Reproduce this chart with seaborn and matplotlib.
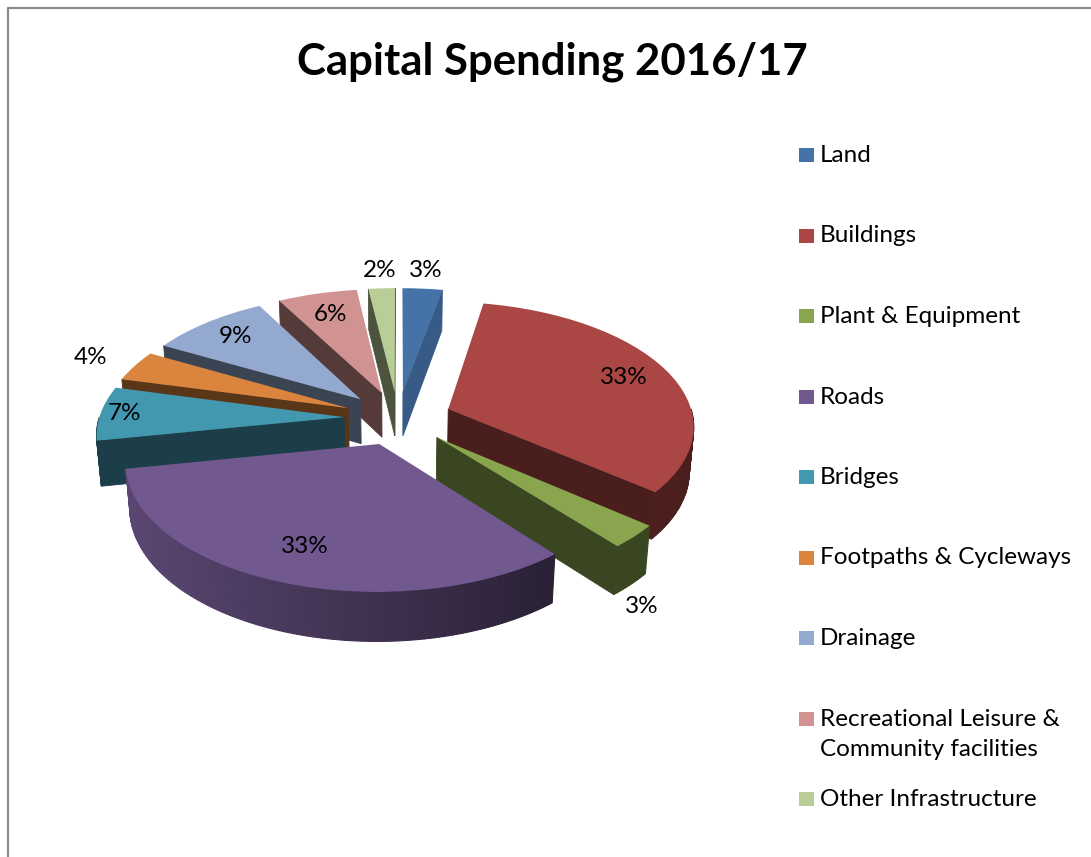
import numpy as np
import matplotlib
matplotlib.use("Agg")
import matplotlib.pyplot as plt
import seaborn as sns
from matplotlib.transforms import Transform
from matplotlib.patches import Rectangle
from matplotlib.lines import Line2D
from matplotlib.colors import to_rgb

# ---- data -------------------------------------------------------------
title = "Capital Spending 2016/17"
categories = ["Land", "Buildings", "Plant & Equipment", "Roads", "Bridges",
              "Footpaths & Cycleways", "Drainage",
              "Recreational Leisure &\nCommunity facilities",
              "Other Infrastructure"]
shares = [3, 33, 3, 33, 7, 4, 9, 6, 2]
colors = ["#4572A7", "#AA4643", "#89A54E", "#71588F", "#4198AF",
          "#DB843D", "#93A9CF", "#D19392", "#B9CD96"]

# ---- styling ----------------------------------------------------------
sns.set_theme(style="white")
plt.rcParams["font.family"] = ["Lato", "DejaVu Sans"]

# shading of the extruded faces (fraction of the top colour)
radial_shade = [0.80, 0.43, 0.42, 0.40, 0.41, 0.41, 0.40, 0.40, 0.41]
curve_shade_left = [0.80, 0.45, 0.42, 0.80, 0.41, 0.41, 0.40, 0.40, 0.41]
curve_shade_right = [0.80, 0.43, 0.42, 0.37, 0.41, 0.41, 0.40, 0.40, 0.41]
# radial position of the percentage labels (in pie radii)
label_dist = [1.2, 0.8, 1.05, 0.77, 0.9, 1.22, 0.8, 0.77, 1.2]

W, H = 1091, 857
S = 245.0            # pixels per pie radius
CX, CY = 398, 418    # pie centre in pixels from the top-left corner
EXPLODE = 0.22
DEPTH = 0.215
SIN_E = 0.5
COS_E = np.sqrt(1 - SIN_E ** 2)
CAM = 7.0
FS = 17.5


def project(x, y, z):
    """Tilted perspective view of a point on/under the pie plane."""
    x = np.asarray(x, float)
    y = np.asarray(y, float)
    yv = y * SIN_E + z * COS_E
    zv = y * COS_E - z * SIN_E
    k = CAM / (CAM + zv)
    return x * k, yv * k


class PiePerspective(Transform):
    input_dims = 2
    output_dims = 2
    is_separable = False

    def __init__(self, z=0.0):
        super().__init__()
        self.z = z

    def transform_non_affine(self, values):
        v = np.asarray(values, dtype=float)
        X, Y = project(v[:, 0], v[:, 1], self.z)
        return np.column_stack([X, Y])


def shade(col, f):
    r, g, b = to_rgb(col)
    return (r * f, g * f, b * f)


fig = plt.figure(figsize=(W / 100, H / 100), dpi=100)
ax = fig.add_axes([0, 0, 1, 1])

n = len(shares)
wedges, _ = ax.pie(shares, colors=colors, startangle=90, counterclock=False,
                   explode=[EXPLODE] * n, radius=1.0,
                   wedgeprops=dict(linewidth=0))
ax.set_aspect("auto")
ax.set_xlim(-CX / S, (W - CX) / S)
ax.set_ylim(-(H - CY) / S, CY / S)
ax.axis("off")


def draw_sides(i, w, z):
    cx, cy = w.center
    r = w.r
    t1, t2 = w.theta1, w.theta2
    zb = -DEPTH
    c0 = project(cx, cy, 0.0)
    cb = project(cx, cy, zb)

    def rim(theta, zz):
        th = np.radians(theta)
        return project(cx + r * np.cos(th), cy + r * np.sin(th), zz)

    # flat radial faces that face the viewer
    rc = shade(colors[i], radial_shade[i])
    for th, vis in ((t1, np.cos(np.radians(t1)) > 0),
                    (t2, np.cos(np.radians(t2)) < 0)):
        if vis:
            p0 = rim(th, 0.0)
            pb = rim(th, zb)
            ax.fill([c0[0], p0[0], pb[0], cb[0]], [c0[1], p0[1], pb[1], cb[1]],
                    color=rc, lw=0.6, ec=rc, zorder=z)

    # curved outer face (front half only)
    for k in range(-2, 3):
        a = max(t1, -180 + 360 * k)
        b = min(t2, 360 * k)
        if b - a <= 0.01:
            continue
        th = np.linspace(a, b, max(2, int(b - a) + 2))
        xt, yt = rim(th, 0.0)
        xb, yb = rim(th, zb)
        xmin, xmax = xt.min(), xt.max()
        span = max(xmax - xmin, 1e-9)
        for j in range(len(th) - 1):
            xm = 0.5 * (xt[j] + xt[j + 1])
            f = curve_shade_left[i] + (curve_shade_right[i] - curve_shade_left[i]) * (xm - xmin) / span
            c = shade(colors[i], f)
            ax.fill([xt[j], xt[j + 1], xb[j + 1], xb[j]],
                    [yt[j], yt[j + 1], yb[j + 1], yb[j]],
                    color=c, lw=0.8, ec=c, zorder=z)


# back-to-front painting
order = sorted(range(n), key=lambda i: -wedges[i].center[1])
for rank, i in enumerate(order):
    base = 2 + 2 * rank
    w = wedges[i]
    draw_sides(i, w, base)
    w.set_transform(PiePerspective(0.0) + ax.transData)
    w.set_zorder(base + 1)

# percentage labels
for i, w in enumerate(wedges):
    mid = np.radians(0.5 * (w.theta1 + w.theta2))
    d = label_dist[i]
    px = w.center[0] + d * w.r * np.cos(mid)
    py = w.center[1] + d * w.r * np.sin(mid)
    txt = f"{shares[i]}%"
    if d > 1 and np.sin(mid) < 0:
        X, Y = project(px, py, -DEPTH)
        ax.annotate(txt, (float(X), float(Y)), xytext=(0, -4),
                    textcoords="offset points", ha="center", va="top",
                    fontsize=FS, color="black", zorder=50)
    else:
        X, Y = project(px, py, 0.0)
        ax.text(float(X), float(Y), txt, ha="center", va="center",
                fontsize=FS, color="black", zorder=50)

# title
fig.text(552 / W, 1 - 75 / H, title, ha="center", va="baseline",
         fontsize=31.5, fontweight="bold", color="black")

# legend: markers sit on the first line of each entry
LEG_Y0, LEG_STEP, LINE_STEP = 162, 80.5, 31
for i, (name, col) in enumerate(zip(categories, colors)):
    by = LEG_Y0 + i * LEG_STEP
    fig.add_artist(Rectangle((799 / W, 1 - by / H), 15 / W, 14 / H,
                             transform=fig.transFigure, color=col, lw=0))
    for j, line in enumerate(name.split("\n")):
        fig.text(820 / W, 1 - (by + j * LINE_STEP) / H, line, ha="left",
                 va="baseline", fontsize=FS, color="black")

# chart-area border
fig.add_artist(Line2D([8 / W, 8 / W], [0, 1 - 8 / H], transform=fig.transFigure,
                      color="#8c8c8c", lw=1.6))
fig.add_artist(Line2D([8 / W, 1], [1 - 8 / H, 1 - 8 / H], transform=fig.transFigure,
                      color="#8c8c8c", lw=1.6))

fig.savefig("out.png", dpi=100, facecolor="white")
